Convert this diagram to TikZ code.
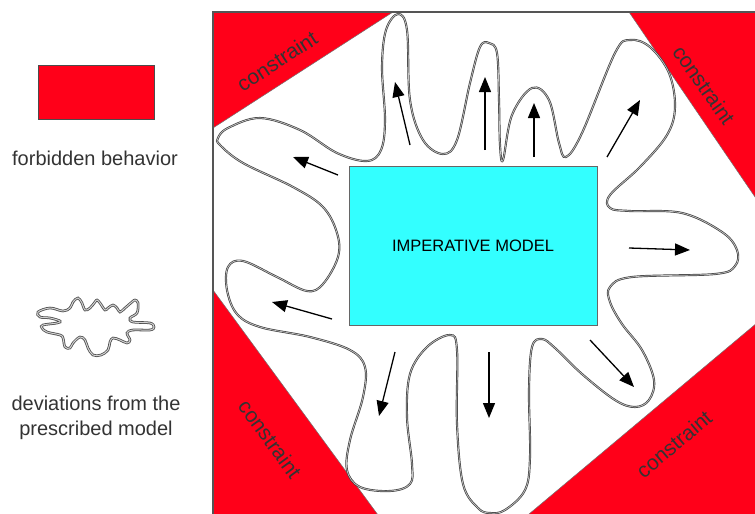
\documentclass[tikz,border=0pt]{standalone}
\usepackage{fontspec}
\setmainfont{Liberation Sans}
\usepackage{tikz}
\usetikzlibrary{arrows.meta}
\definecolor{ConstraintRed}{RGB}{255,0,25}
\definecolor{ModelCyan}{RGB}{51,255,255}
\definecolor{FrameGray}{RGB}{85,85,85}

\begin{document}
\begin{tikzpicture}[x=1pt,y=-1pt,
    wiggle/.style={draw=black!75, line width=0.7pt, double=gray!45, double distance=0.7pt},
    smallwiggle/.style={draw=black!70, line width=0.8pt, double=gray!35, double distance=1pt},
    redzone/.style={fill=ConstraintRed, draw=black!55, line width=0.5pt},
    ctext/.style={font=\fontsize{21}{24}\selectfont, text=black!80},
    legend/.style={font=\fontsize{20}{25}\selectfont, text=black!80, align=center},
    push/.style={black, line width=1.3pt, -{Triangle[length=15pt,width=12pt]}}]
    \useasboundingbox (0,0) rectangle (755,514);
    \clip (0,0) rectangle (755,514);
    %%Constraints
    \draw[redzone] (213,12) -- (393,12) -- (213,128) -- cycle;
    \draw[redzone] (629,12) -- (770,12) -- (770,219) -- cycle;
    \draw[redzone] (213,290) -- (389,530) -- (213,530) -- cycle;
    \draw[redzone] (510,530) -- (770,312) -- (770,530) -- cycle;
    \node[ctext, rotate=33] (cTL) at (277,61) {constraint};
    \node[ctext, rotate=-55] (cTR) at (704,85) {constraint};
    \node[ctext, rotate=-54] (cBL) at (270,439) {constraint};
    \node[ctext, rotate=40] (cBR) at (674,444) {constraint};
    %%Frame
    \draw[FrameGray, line width=1.6pt] (213,530) -- (213,12) -- (770,12);
    %%Deviations
    \draw[wiggle] plot[smooth cycle, tension=0.6] coordinates {
        (218,138) (228,128) (260,118) (300,130) (337,153) (367,161) (381,150)
        (385,120) (382,67) (386,30) (398,14) (407,30) (410,100) (423,140)
        (443,154) (457,140) (470,83) (480,47) (489,43) (497,53) (499,100)
        (500,145) (503,160) (512,115) (532,88) (549,100) (559,143) (566,157)
        (582,133) (615,53) (630,40) (650,47) (669,73) (675,107) (667,135)
        (640,167) (610,195) (610,208) (630,211) (682,213) (722,232) (737,250)
        (735,266) (715,274) (632,277) (610,287) (610,302) (622,324) (642,350)
        (654,380) (649,400) (635,407) (615,400) (582,374) (555,348) (542,339)
        (532,347) (529,390) (530,457) (525,490) (505,510) (490,513) (478,508)
        (463,484) (457,424) (457,350) (450,335) (427,347) (410,374) (407,417)
        (412,464) (410,484) (390,491) (360,487) (347,470) (350,440) (363,397)
        (365,367) (350,350) (310,337) (260,327) (237,314) (227,290) (228,267)
        (243,261) (277,277) (307,291) (323,284) (338,257) (337,233) (323,207)
        (293,187) (243,163) (220,145)};
    \foreach \sx/\sy/\ex/\ey in {338/175/293/157, 410/145/395/82, 485/150/485/77,
        534/157/534/103, 607/157/640/100, 629/248/690/250, 590/340/634/387,
        489/352/489/418, 395/352/379/416, 332/319/272/302}
        \draw[push] (\sx,\sy) -- (\ex,\ey);
    %%Model
    \node[draw=black!60, fill=ModelCyan, minimum width=248pt, minimum height=159pt,
        inner sep=0pt, font=\fontsize{16.5}{20}\selectfont] (model) at (473,245.5) {IMPERATIVE MODEL};
    %%Legend
    \node[draw=black!70, fill=ConstraintRed, minimum width=116pt, minimum height=54pt,
        inner sep=0pt] (forbid) at (96,92) {};
    \node[legend] (forbidText) at (95,158) {forbidden behavior};
    \draw[smallwiggle] plot[smooth cycle, tension=0.6] coordinates {
        (38,312) (50,308) (63,311) (70,308) (73,302) (78,298) (82,303) (85,310)
        (90,308) (95,302) (97,300) (100,303) (105,310) (108,308) (113,305)
        (117,308) (120,312) (125,308) (132,302) (135,300) (138,303) (137,313)
        (130,318) (133,322) (150,323) (154,327) (150,330) (133,330) (127,333)
        (130,340) (127,343) (120,340) (113,338) (110,342) (108,350) (101,355)
        (93,355) (88,348) (85,340) (80,337) (73,343) (70,348) (65,347) (63,338)
        (60,335) (47,332) (42,328) (43,325) (57,323) (60,321) (50,318) (40,317)};
    \node[legend] (devText) at (96,417.5) {deviations from the\\prescribed model};
\end{tikzpicture}
\end{document}
